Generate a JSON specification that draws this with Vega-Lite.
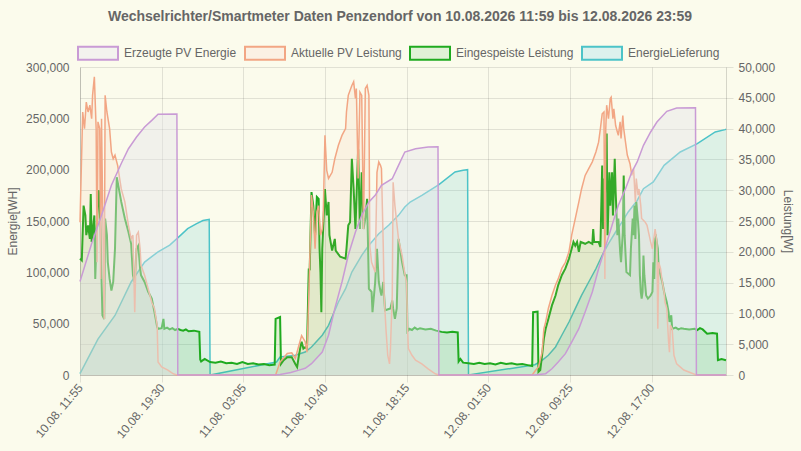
{
  "$schema": "https://vega.github.io/schema/vega-lite/v6.json",
  "width": 646,
  "height": 308,
  "autosize": {"type": "none"},
  "padding": {"left": 80, "top": 67, "right": 75, "bottom": 76},
  "background": "#fbfbec",
  "title": {
    "text": "Wechselrichter/Smartmeter Daten Penzendorf von 10.08.2026 11:59 bis 12.08.2026 23:59",
    "frame": "group",
    "anchor": "middle",
    "dx": -3,
    "offset": 8,
    "font": "Liberation Sans",
    "fontSize": 14,
    "fontWeight": "bold",
    "color": "#666666"
  },
  "config": {
    "view": {"stroke": null},
    "axis": {
      "labelFont": "Liberation Sans",
      "labelFontSize": 12,
      "labelColor": "#666666",
      "titleFont": "Liberation Sans",
      "titleFontSize": 12,
      "titleFontWeight": "normal",
      "titleColor": "#666666",
      "gridColor": "#000000",
      "gridOpacity": 0.1,
      "domainColor": "#000000",
      "domainOpacity": 0.15,
      "tickColor": "#000000",
      "tickOpacity": 0.1
    }
  },
  "datasets": {
    "pv_energie": [
      {"t": "2026-08-10T11:55", "v": 91000},
      {"t": "2026-08-10T13:00", "v": 128000},
      {"t": "2026-08-10T13:55", "v": 155500},
      {"t": "2026-08-10T14:50", "v": 184800},
      {"t": "2026-08-10T15:45", "v": 206000},
      {"t": "2026-08-10T16:25", "v": 220400},
      {"t": "2026-08-10T17:10", "v": 231800},
      {"t": "2026-08-10T17:55", "v": 241600},
      {"t": "2026-08-10T18:35", "v": 248000},
      {"t": "2026-08-10T19:10", "v": 254000},
      {"t": "2026-08-10T20:55", "v": 254300},
      {"t": "2026-08-10T21:00", "v": 0},
      {"t": "2026-08-11T06:00", "v": 0},
      {"t": "2026-08-11T06:30", "v": 500},
      {"t": "2026-08-11T07:00", "v": 1500},
      {"t": "2026-08-11T07:30", "v": 2500},
      {"t": "2026-08-11T08:20", "v": 5000},
      {"t": "2026-08-11T08:50", "v": 6500},
      {"t": "2026-08-11T09:25", "v": 11000},
      {"t": "2026-08-11T10:25", "v": 22400},
      {"t": "2026-08-11T11:00", "v": 38700},
      {"t": "2026-08-11T11:35", "v": 64600},
      {"t": "2026-08-11T12:15", "v": 90600},
      {"t": "2026-08-11T12:50", "v": 116600},
      {"t": "2026-08-11T13:30", "v": 139300},
      {"t": "2026-08-11T14:05", "v": 155500},
      {"t": "2026-08-11T14:45", "v": 168500},
      {"t": "2026-08-11T15:20", "v": 175000},
      {"t": "2026-08-11T15:55", "v": 184800},
      {"t": "2026-08-11T16:55", "v": 191200},
      {"t": "2026-08-11T17:30", "v": 204200},
      {"t": "2026-08-11T18:05", "v": 217200},
      {"t": "2026-08-11T19:05", "v": 220400},
      {"t": "2026-08-11T20:15", "v": 222000},
      {"t": "2026-08-11T21:10", "v": 222200},
      {"t": "2026-08-11T21:15", "v": 0},
      {"t": "2026-08-12T06:10", "v": 0},
      {"t": "2026-08-12T07:10", "v": 1300},
      {"t": "2026-08-12T07:45", "v": 6100},
      {"t": "2026-08-12T08:20", "v": 12700},
      {"t": "2026-08-12T09:00", "v": 20800},
      {"t": "2026-08-12T09:35", "v": 32100},
      {"t": "2026-08-12T10:15", "v": 45100},
      {"t": "2026-08-12T10:50", "v": 61400},
      {"t": "2026-08-12T11:30", "v": 80800},
      {"t": "2026-08-12T12:05", "v": 103500},
      {"t": "2026-08-12T12:40", "v": 123000},
      {"t": "2026-08-12T13:20", "v": 145800},
      {"t": "2026-08-12T13:55", "v": 165300},
      {"t": "2026-08-12T14:35", "v": 181500},
      {"t": "2026-08-12T15:10", "v": 197700},
      {"t": "2026-08-12T15:40", "v": 207500},
      {"t": "2026-08-12T16:15", "v": 223700},
      {"t": "2026-08-12T16:55", "v": 236700},
      {"t": "2026-08-12T17:30", "v": 246400},
      {"t": "2026-08-12T18:25", "v": 256800},
      {"t": "2026-08-12T19:20", "v": 260000},
      {"t": "2026-08-12T21:05", "v": 260200},
      {"t": "2026-08-12T21:10", "v": 0},
      {"t": "2026-08-12T23:55", "v": 0}
    ],
    "lieferung": [
      {"t": "2026-08-10T11:55", "v": 1300},
      {"t": "2026-08-10T13:35", "v": 35000},
      {"t": "2026-08-10T15:10", "v": 58000},
      {"t": "2026-08-10T16:40", "v": 90600},
      {"t": "2026-08-10T17:55", "v": 110000},
      {"t": "2026-08-10T19:10", "v": 120000},
      {"t": "2026-08-10T20:15", "v": 126600},
      {"t": "2026-08-10T21:15", "v": 136000},
      {"t": "2026-08-10T21:55", "v": 142500},
      {"t": "2026-08-10T22:45", "v": 147400},
      {"t": "2026-08-10T23:20", "v": 150500},
      {"t": "2026-08-10T23:55", "v": 151500},
      {"t": "2026-08-11T00:00", "v": 0},
      {"t": "2026-08-11T06:10", "v": 12700},
      {"t": "2026-08-11T06:30", "v": 17500},
      {"t": "2026-08-11T07:55", "v": 19200},
      {"t": "2026-08-11T08:50", "v": 22400},
      {"t": "2026-08-11T09:25", "v": 27300},
      {"t": "2026-08-11T10:25", "v": 38700},
      {"t": "2026-08-11T11:00", "v": 48400},
      {"t": "2026-08-11T11:55", "v": 71100},
      {"t": "2026-08-11T12:35", "v": 84100},
      {"t": "2026-08-11T13:10", "v": 100300},
      {"t": "2026-08-11T14:05", "v": 116600},
      {"t": "2026-08-11T14:45", "v": 126300},
      {"t": "2026-08-11T15:40", "v": 137600},
      {"t": "2026-08-11T16:35", "v": 145800},
      {"t": "2026-08-11T17:30", "v": 155500},
      {"t": "2026-08-11T18:05", "v": 163600},
      {"t": "2026-08-11T18:35", "v": 168500},
      {"t": "2026-08-11T19:40", "v": 175000},
      {"t": "2026-08-11T21:15", "v": 185400},
      {"t": "2026-08-11T22:45", "v": 197700},
      {"t": "2026-08-11T23:30", "v": 199500},
      {"t": "2026-08-11T23:55", "v": 200000},
      {"t": "2026-08-12T00:00", "v": 0},
      {"t": "2026-08-12T06:10", "v": 10000},
      {"t": "2026-08-12T06:50", "v": 14300},
      {"t": "2026-08-12T07:25", "v": 19200},
      {"t": "2026-08-12T08:05", "v": 27300},
      {"t": "2026-08-12T08:40", "v": 38700},
      {"t": "2026-08-12T09:20", "v": 51600},
      {"t": "2026-08-12T09:55", "v": 64600},
      {"t": "2026-08-12T10:30", "v": 77600},
      {"t": "2026-08-12T11:10", "v": 90600},
      {"t": "2026-08-12T11:50", "v": 103500},
      {"t": "2026-08-12T12:25", "v": 116600},
      {"t": "2026-08-12T13:00", "v": 127900},
      {"t": "2026-08-12T13:40", "v": 139300},
      {"t": "2026-08-12T14:15", "v": 149000},
      {"t": "2026-08-12T14:50", "v": 158800},
      {"t": "2026-08-12T15:40", "v": 170000},
      {"t": "2026-08-12T16:15", "v": 181500},
      {"t": "2026-08-12T17:10", "v": 188000},
      {"t": "2026-08-12T18:10", "v": 204200},
      {"t": "2026-08-12T19:40", "v": 217200},
      {"t": "2026-08-12T21:15", "v": 225300},
      {"t": "2026-08-12T22:55", "v": 236700},
      {"t": "2026-08-12T23:50", "v": 239000},
      {"t": "2026-08-12T23:55", "v": 239300}
    ],
    "pv_leistung": [
      {"t": "2026-08-10T11:55", "v": 24800},
      {"t": "2026-08-10T12:10", "v": 42700},
      {"t": "2026-08-10T12:20", "v": 40000},
      {"t": "2026-08-10T12:30", "v": 44300},
      {"t": "2026-08-10T12:40", "v": 42700},
      {"t": "2026-08-10T12:50", "v": 43800},
      {"t": "2026-08-10T13:00", "v": 41600},
      {"t": "2026-08-10T13:05", "v": 45400},
      {"t": "2026-08-10T13:15", "v": 48400},
      {"t": "2026-08-10T13:25", "v": 40000},
      {"t": "2026-08-10T13:30", "v": 18300},
      {"t": "2026-08-10T13:35", "v": 41100},
      {"t": "2026-08-10T13:45", "v": 40000},
      {"t": "2026-08-10T13:50", "v": 15600},
      {"t": "2026-08-10T13:55", "v": 41600},
      {"t": "2026-08-10T14:05", "v": 18300},
      {"t": "2026-08-10T14:10", "v": 9100},
      {"t": "2026-08-10T14:15", "v": 45400},
      {"t": "2026-08-10T14:25", "v": 42700},
      {"t": "2026-08-10T14:40", "v": 40000},
      {"t": "2026-08-10T14:50", "v": 36200},
      {"t": "2026-08-10T15:00", "v": 35100},
      {"t": "2026-08-10T15:10", "v": 35700},
      {"t": "2026-08-10T15:25", "v": 34000},
      {"t": "2026-08-10T15:45", "v": 30200},
      {"t": "2026-08-10T16:05", "v": 28100},
      {"t": "2026-08-10T16:25", "v": 24300},
      {"t": "2026-08-10T16:40", "v": 22100},
      {"t": "2026-08-10T16:50", "v": 22700},
      {"t": "2026-08-10T17:00", "v": 10200},
      {"t": "2026-08-10T17:10", "v": 22700},
      {"t": "2026-08-10T17:20", "v": 23200},
      {"t": "2026-08-10T17:30", "v": 20500},
      {"t": "2026-08-10T17:35", "v": 17800},
      {"t": "2026-08-10T17:55", "v": 16200},
      {"t": "2026-08-10T18:15", "v": 14000},
      {"t": "2026-08-10T18:35", "v": 11800},
      {"t": "2026-08-10T18:50", "v": 10800},
      {"t": "2026-08-10T19:05", "v": 8100},
      {"t": "2026-08-10T19:10", "v": 2100},
      {"t": "2026-08-10T19:30", "v": 1300},
      {"t": "2026-08-10T20:05", "v": 800},
      {"t": "2026-08-10T20:35", "v": 200},
      {"t": "2026-08-10T20:55", "v": 0},
      {"t": "2026-08-11T06:05", "v": 0},
      {"t": "2026-08-11T06:30", "v": 2100},
      {"t": "2026-08-11T07:10", "v": 3500},
      {"t": "2026-08-11T07:35", "v": 3600},
      {"t": "2026-08-11T07:55", "v": 2700},
      {"t": "2026-08-11T08:10", "v": 4300},
      {"t": "2026-08-11T08:30", "v": 6400},
      {"t": "2026-08-11T08:50", "v": 5400},
      {"t": "2026-08-11T09:00", "v": 3700},
      {"t": "2026-08-11T09:10", "v": 12900},
      {"t": "2026-08-11T09:15", "v": 18300},
      {"t": "2026-08-11T09:25", "v": 29200},
      {"t": "2026-08-11T09:35", "v": 26500},
      {"t": "2026-08-11T09:45", "v": 20500},
      {"t": "2026-08-11T09:55", "v": 26500},
      {"t": "2026-08-11T10:05", "v": 27500},
      {"t": "2026-08-11T10:15", "v": 22700},
      {"t": "2026-08-11T10:25", "v": 23700},
      {"t": "2026-08-11T10:30", "v": 25400},
      {"t": "2026-08-11T10:40", "v": 38900},
      {"t": "2026-08-11T10:50", "v": 33200},
      {"t": "2026-08-11T11:00", "v": 31900},
      {"t": "2026-08-11T11:20", "v": 32900},
      {"t": "2026-08-11T11:35", "v": 35100},
      {"t": "2026-08-11T11:55", "v": 37300},
      {"t": "2026-08-11T12:15", "v": 38900},
      {"t": "2026-08-11T12:35", "v": 40000},
      {"t": "2026-08-11T12:40", "v": 42700},
      {"t": "2026-08-11T12:50", "v": 45400},
      {"t": "2026-08-11T13:10", "v": 47000},
      {"t": "2026-08-11T13:20", "v": 47600},
      {"t": "2026-08-11T13:30", "v": 44900},
      {"t": "2026-08-11T13:35", "v": 46500},
      {"t": "2026-08-11T13:45", "v": 31900},
      {"t": "2026-08-11T13:55", "v": 45900},
      {"t": "2026-08-11T14:05", "v": 45400},
      {"t": "2026-08-11T14:15", "v": 23700},
      {"t": "2026-08-11T14:25", "v": 46500},
      {"t": "2026-08-11T14:35", "v": 47000},
      {"t": "2026-08-11T14:45", "v": 45400},
      {"t": "2026-08-11T14:50", "v": 21000},
      {"t": "2026-08-11T15:00", "v": 18300},
      {"t": "2026-08-11T15:20", "v": 16700},
      {"t": "2026-08-11T15:30", "v": 32900},
      {"t": "2026-08-11T15:40", "v": 34600},
      {"t": "2026-08-11T15:50", "v": 34000},
      {"t": "2026-08-11T15:55", "v": 33500},
      {"t": "2026-08-11T16:05", "v": 21000},
      {"t": "2026-08-11T16:10", "v": 12900},
      {"t": "2026-08-11T16:20", "v": 7500},
      {"t": "2026-08-11T16:30", "v": 3200},
      {"t": "2026-08-11T16:40", "v": 1800},
      {"t": "2026-08-11T16:45", "v": 4300},
      {"t": "2026-08-11T16:55", "v": 12900},
      {"t": "2026-08-11T17:00", "v": 31300},
      {"t": "2026-08-11T17:10", "v": 27500},
      {"t": "2026-08-11T17:30", "v": 22100},
      {"t": "2026-08-11T17:50", "v": 19400},
      {"t": "2026-08-11T18:05", "v": 16500},
      {"t": "2026-08-11T18:15", "v": 15000},
      {"t": "2026-08-11T18:20", "v": 8000},
      {"t": "2026-08-11T18:25", "v": 4300},
      {"t": "2026-08-11T18:45", "v": 3200},
      {"t": "2026-08-11T19:05", "v": 2400},
      {"t": "2026-08-11T19:40", "v": 1800},
      {"t": "2026-08-11T20:15", "v": 1000},
      {"t": "2026-08-11T20:55", "v": 200},
      {"t": "2026-08-11T21:15", "v": 0},
      {"t": "2026-08-12T05:55", "v": 0},
      {"t": "2026-08-12T06:15", "v": 800},
      {"t": "2026-08-12T06:30", "v": 1300},
      {"t": "2026-08-12T06:50", "v": 3700},
      {"t": "2026-08-12T07:00", "v": 7500},
      {"t": "2026-08-12T07:10", "v": 8600},
      {"t": "2026-08-12T07:25", "v": 10800},
      {"t": "2026-08-12T07:45", "v": 12900},
      {"t": "2026-08-12T08:05", "v": 14600},
      {"t": "2026-08-12T08:20", "v": 15600},
      {"t": "2026-08-12T08:40", "v": 17300},
      {"t": "2026-08-12T09:00", "v": 18300},
      {"t": "2026-08-12T09:20", "v": 20000},
      {"t": "2026-08-12T09:35", "v": 22700},
      {"t": "2026-08-12T09:55", "v": 25400},
      {"t": "2026-08-12T10:15", "v": 28100},
      {"t": "2026-08-12T10:30", "v": 30200},
      {"t": "2026-08-12T10:50", "v": 32400},
      {"t": "2026-08-12T11:10", "v": 33500},
      {"t": "2026-08-12T11:30", "v": 34600},
      {"t": "2026-08-12T11:50", "v": 36200},
      {"t": "2026-08-12T12:05", "v": 37800},
      {"t": "2026-08-12T12:15", "v": 40000},
      {"t": "2026-08-12T12:25", "v": 42400},
      {"t": "2026-08-12T12:35", "v": 42700},
      {"t": "2026-08-12T12:40", "v": 15600},
      {"t": "2026-08-12T12:45", "v": 40000},
      {"t": "2026-08-12T12:50", "v": 43800},
      {"t": "2026-08-12T13:00", "v": 41600},
      {"t": "2026-08-12T13:10", "v": 44900},
      {"t": "2026-08-12T13:15", "v": 45100},
      {"t": "2026-08-12T13:25", "v": 41600},
      {"t": "2026-08-12T13:30", "v": 43200},
      {"t": "2026-08-12T13:40", "v": 40500},
      {"t": "2026-08-12T13:50", "v": 39400},
      {"t": "2026-08-12T13:55", "v": 38900},
      {"t": "2026-08-12T14:05", "v": 41100},
      {"t": "2026-08-12T14:10", "v": 38400},
      {"t": "2026-08-12T14:20", "v": 42100},
      {"t": "2026-08-12T14:25", "v": 40000},
      {"t": "2026-08-12T14:35", "v": 37800},
      {"t": "2026-08-12T14:45", "v": 35700},
      {"t": "2026-08-12T15:00", "v": 34300},
      {"t": "2026-08-12T15:10", "v": 32400},
      {"t": "2026-08-12T15:20", "v": 33500},
      {"t": "2026-08-12T15:30", "v": 28100},
      {"t": "2026-08-12T15:35", "v": 31900},
      {"t": "2026-08-12T15:45", "v": 29200},
      {"t": "2026-08-12T15:50", "v": 30200},
      {"t": "2026-08-12T16:00", "v": 27500},
      {"t": "2026-08-12T16:05", "v": 25400},
      {"t": "2026-08-12T16:25", "v": 24800},
      {"t": "2026-08-12T16:35", "v": 24300},
      {"t": "2026-08-12T16:55", "v": 21600},
      {"t": "2026-08-12T17:05", "v": 20500},
      {"t": "2026-08-12T17:20", "v": 23700},
      {"t": "2026-08-12T17:30", "v": 21600},
      {"t": "2026-08-12T17:35", "v": 7500},
      {"t": "2026-08-12T17:40", "v": 18300},
      {"t": "2026-08-12T17:50", "v": 17300},
      {"t": "2026-08-12T18:00", "v": 15100},
      {"t": "2026-08-12T18:10", "v": 13500},
      {"t": "2026-08-12T18:15", "v": 11800},
      {"t": "2026-08-12T18:25", "v": 10800},
      {"t": "2026-08-12T18:35", "v": 5400},
      {"t": "2026-08-12T18:40", "v": 3700},
      {"t": "2026-08-12T18:45", "v": 8100},
      {"t": "2026-08-12T18:55", "v": 7500},
      {"t": "2026-08-12T19:05", "v": 3200},
      {"t": "2026-08-12T19:20", "v": 1800},
      {"t": "2026-08-12T20:00", "v": 800},
      {"t": "2026-08-12T20:35", "v": 400},
      {"t": "2026-08-12T21:10", "v": 0},
      {"t": "2026-08-12T23:55", "v": 0}
    ],
    "einspeisung": [
      {"t": "2026-08-10T11:55", "v": 18900},
      {"t": "2026-08-10T12:05", "v": 18600},
      {"t": "2026-08-10T12:15", "v": 27500},
      {"t": "2026-08-10T12:25", "v": 25900},
      {"t": "2026-08-10T12:30", "v": 22700},
      {"t": "2026-08-10T12:40", "v": 24300},
      {"t": "2026-08-10T12:50", "v": 22100},
      {"t": "2026-08-10T12:55", "v": 29400},
      {"t": "2026-08-10T13:00", "v": 21600},
      {"t": "2026-08-10T13:15", "v": 25900},
      {"t": "2026-08-10T13:20", "v": 15600},
      {"t": "2026-08-10T13:30", "v": 24800},
      {"t": "2026-08-10T13:35", "v": 29200},
      {"t": "2026-08-10T13:40", "v": 30000},
      {"t": "2026-08-10T13:50", "v": 23700},
      {"t": "2026-08-10T13:55", "v": 15600},
      {"t": "2026-08-10T14:00", "v": 9700},
      {"t": "2026-08-10T14:10", "v": 9100},
      {"t": "2026-08-10T14:15", "v": 25400},
      {"t": "2026-08-10T14:25", "v": 22700},
      {"t": "2026-08-10T14:30", "v": 18300},
      {"t": "2026-08-10T14:40", "v": 15600},
      {"t": "2026-08-10T14:50", "v": 13700},
      {"t": "2026-08-10T15:00", "v": 15100},
      {"t": "2026-08-10T15:10", "v": 20500},
      {"t": "2026-08-10T15:20", "v": 32100},
      {"t": "2026-08-10T15:25", "v": 31300},
      {"t": "2026-08-10T15:45", "v": 28100},
      {"t": "2026-08-10T16:05", "v": 25400},
      {"t": "2026-08-10T16:25", "v": 23200},
      {"t": "2026-08-10T16:40", "v": 21300},
      {"t": "2026-08-10T16:50", "v": 16200},
      {"t": "2026-08-10T17:00", "v": 15100},
      {"t": "2026-08-10T17:10", "v": 20500},
      {"t": "2026-08-10T17:20", "v": 21000},
      {"t": "2026-08-10T17:30", "v": 17300},
      {"t": "2026-08-10T17:35", "v": 16200},
      {"t": "2026-08-10T17:55", "v": 15100},
      {"t": "2026-08-10T18:15", "v": 13500},
      {"t": "2026-08-10T18:35", "v": 12400},
      {"t": "2026-08-10T18:50", "v": 10200},
      {"t": "2026-08-10T19:05", "v": 7800},
      {"t": "2026-08-10T19:10", "v": 7500},
      {"t": "2026-08-10T19:30", "v": 7600},
      {"t": "2026-08-10T19:40", "v": 9100},
      {"t": "2026-08-10T19:45", "v": 7500},
      {"t": "2026-08-10T20:00", "v": 7700},
      {"t": "2026-08-10T20:15", "v": 7400},
      {"t": "2026-08-10T20:30", "v": 7600},
      {"t": "2026-08-10T20:45", "v": 7300},
      {"t": "2026-08-10T21:00", "v": 7500},
      {"t": "2026-08-10T21:15", "v": 7300},
      {"t": "2026-08-10T21:30", "v": 7200},
      {"t": "2026-08-10T21:45", "v": 7400},
      {"t": "2026-08-10T22:00", "v": 7100},
      {"t": "2026-08-10T22:30", "v": 7200},
      {"t": "2026-08-10T23:00", "v": 7000},
      {"t": "2026-08-10T23:05", "v": 2500},
      {"t": "2026-08-10T23:10", "v": 2200},
      {"t": "2026-08-10T23:30", "v": 2600},
      {"t": "2026-08-11T00:00", "v": 2100},
      {"t": "2026-08-11T00:30", "v": 2000},
      {"t": "2026-08-11T01:00", "v": 2200},
      {"t": "2026-08-11T01:30", "v": 1900},
      {"t": "2026-08-11T02:00", "v": 2000},
      {"t": "2026-08-11T02:30", "v": 1800},
      {"t": "2026-08-11T03:00", "v": 2100},
      {"t": "2026-08-11T03:30", "v": 1800},
      {"t": "2026-08-11T04:00", "v": 1900},
      {"t": "2026-08-11T04:30", "v": 1700},
      {"t": "2026-08-11T05:00", "v": 1800},
      {"t": "2026-08-11T05:30", "v": 1600},
      {"t": "2026-08-11T06:00", "v": 1700},
      {"t": "2026-08-11T06:05", "v": 9100},
      {"t": "2026-08-11T06:30", "v": 9400},
      {"t": "2026-08-11T06:35", "v": 1800},
      {"t": "2026-08-11T06:50", "v": 2400},
      {"t": "2026-08-11T07:10", "v": 2900},
      {"t": "2026-08-11T07:35", "v": 2900},
      {"t": "2026-08-11T07:55", "v": 1800},
      {"t": "2026-08-11T08:05", "v": 1300},
      {"t": "2026-08-11T08:15", "v": 3200},
      {"t": "2026-08-11T08:25", "v": 4800},
      {"t": "2026-08-11T08:30", "v": 5400},
      {"t": "2026-08-11T08:40", "v": 4300},
      {"t": "2026-08-11T08:50", "v": 4500},
      {"t": "2026-08-11T09:00", "v": 4300},
      {"t": "2026-08-11T09:10", "v": 17300},
      {"t": "2026-08-11T09:15", "v": 17000},
      {"t": "2026-08-11T09:25", "v": 29700},
      {"t": "2026-08-11T09:35", "v": 27500},
      {"t": "2026-08-11T09:45", "v": 22700},
      {"t": "2026-08-11T09:55", "v": 28900},
      {"t": "2026-08-11T10:05", "v": 28600},
      {"t": "2026-08-11T10:10", "v": 20500},
      {"t": "2026-08-11T10:15", "v": 16700},
      {"t": "2026-08-11T10:20", "v": 10200},
      {"t": "2026-08-11T10:25", "v": 20500},
      {"t": "2026-08-11T10:30", "v": 23700},
      {"t": "2026-08-11T10:40", "v": 30200},
      {"t": "2026-08-11T10:50", "v": 25900},
      {"t": "2026-08-11T11:00", "v": 28100},
      {"t": "2026-08-11T11:05", "v": 22700},
      {"t": "2026-08-11T11:20", "v": 20200},
      {"t": "2026-08-11T11:35", "v": 22100},
      {"t": "2026-08-11T11:40", "v": 20200},
      {"t": "2026-08-11T12:05", "v": 19200},
      {"t": "2026-08-11T12:35", "v": 18900},
      {"t": "2026-08-11T12:40", "v": 20500},
      {"t": "2026-08-11T12:50", "v": 24300},
      {"t": "2026-08-11T13:00", "v": 24800},
      {"t": "2026-08-11T13:10", "v": 35100},
      {"t": "2026-08-11T13:20", "v": 30200},
      {"t": "2026-08-11T13:30", "v": 23700},
      {"t": "2026-08-11T13:35", "v": 28100},
      {"t": "2026-08-11T13:45", "v": 36700},
      {"t": "2026-08-11T13:55", "v": 23700},
      {"t": "2026-08-11T14:05", "v": 32900},
      {"t": "2026-08-11T14:15", "v": 23700},
      {"t": "2026-08-11T14:25", "v": 25400},
      {"t": "2026-08-11T14:35", "v": 28600},
      {"t": "2026-08-11T14:45", "v": 14000},
      {"t": "2026-08-11T15:00", "v": 13500},
      {"t": "2026-08-11T15:05", "v": 10200},
      {"t": "2026-08-11T15:20", "v": 15100},
      {"t": "2026-08-11T15:30", "v": 20500},
      {"t": "2026-08-11T15:40", "v": 15100},
      {"t": "2026-08-11T15:50", "v": 13500},
      {"t": "2026-08-11T15:55", "v": 12900},
      {"t": "2026-08-11T16:05", "v": 15100},
      {"t": "2026-08-11T16:15", "v": 10500},
      {"t": "2026-08-11T16:45", "v": 10800},
      {"t": "2026-08-11T16:55", "v": 12100},
      {"t": "2026-08-11T17:00", "v": 10800},
      {"t": "2026-08-11T17:10", "v": 9100},
      {"t": "2026-08-11T17:20", "v": 10800},
      {"t": "2026-08-11T17:30", "v": 22100},
      {"t": "2026-08-11T17:50", "v": 18300},
      {"t": "2026-08-11T18:05", "v": 16200},
      {"t": "2026-08-11T18:15", "v": 16200},
      {"t": "2026-08-11T18:20", "v": 7100},
      {"t": "2026-08-11T18:30", "v": 7500},
      {"t": "2026-08-11T18:45", "v": 7300},
      {"t": "2026-08-11T19:00", "v": 7700},
      {"t": "2026-08-11T19:15", "v": 7400},
      {"t": "2026-08-11T19:30", "v": 7600},
      {"t": "2026-08-11T20:00", "v": 7400},
      {"t": "2026-08-11T20:30", "v": 7500},
      {"t": "2026-08-11T21:00", "v": 7200},
      {"t": "2026-08-11T21:30", "v": 7000},
      {"t": "2026-08-11T22:00", "v": 6900},
      {"t": "2026-08-11T22:30", "v": 7000},
      {"t": "2026-08-11T23:00", "v": 6900},
      {"t": "2026-08-11T23:05", "v": 2200},
      {"t": "2026-08-11T23:15", "v": 2600},
      {"t": "2026-08-11T23:30", "v": 2000},
      {"t": "2026-08-12T00:00", "v": 1900},
      {"t": "2026-08-12T00:30", "v": 1800},
      {"t": "2026-08-12T01:00", "v": 2000},
      {"t": "2026-08-12T01:30", "v": 1800},
      {"t": "2026-08-12T02:00", "v": 1900},
      {"t": "2026-08-12T02:30", "v": 1700},
      {"t": "2026-08-12T03:00", "v": 2000},
      {"t": "2026-08-12T03:30", "v": 1800},
      {"t": "2026-08-12T04:00", "v": 1900},
      {"t": "2026-08-12T04:30", "v": 1700},
      {"t": "2026-08-12T05:00", "v": 1800},
      {"t": "2026-08-12T05:30", "v": 1600},
      {"t": "2026-08-12T05:55", "v": 1450},
      {"t": "2026-08-12T06:00", "v": 10200},
      {"t": "2026-08-12T06:25", "v": 10300},
      {"t": "2026-08-12T06:30", "v": 500},
      {"t": "2026-08-12T06:40", "v": 800},
      {"t": "2026-08-12T06:50", "v": 3200},
      {"t": "2026-08-12T07:00", "v": 5900},
      {"t": "2026-08-12T07:10", "v": 7500},
      {"t": "2026-08-12T07:25", "v": 9100},
      {"t": "2026-08-12T07:45", "v": 11300},
      {"t": "2026-08-12T08:05", "v": 12900},
      {"t": "2026-08-12T08:20", "v": 14600},
      {"t": "2026-08-12T08:40", "v": 16200},
      {"t": "2026-08-12T09:00", "v": 17300},
      {"t": "2026-08-12T09:20", "v": 18900},
      {"t": "2026-08-12T09:35", "v": 20500},
      {"t": "2026-08-12T09:45", "v": 21600},
      {"t": "2026-08-12T09:55", "v": 21000},
      {"t": "2026-08-12T10:05", "v": 21600},
      {"t": "2026-08-12T10:15", "v": 20000},
      {"t": "2026-08-12T10:25", "v": 21600},
      {"t": "2026-08-12T10:50", "v": 21300},
      {"t": "2026-08-12T11:10", "v": 21600},
      {"t": "2026-08-12T11:30", "v": 21300},
      {"t": "2026-08-12T11:35", "v": 23700},
      {"t": "2026-08-12T11:40", "v": 21600},
      {"t": "2026-08-12T12:05", "v": 21600},
      {"t": "2026-08-12T12:15", "v": 20800},
      {"t": "2026-08-12T12:25", "v": 34000},
      {"t": "2026-08-12T12:30", "v": 23700},
      {"t": "2026-08-12T12:35", "v": 31900},
      {"t": "2026-08-12T12:40", "v": 28600},
      {"t": "2026-08-12T12:50", "v": 39200},
      {"t": "2026-08-12T12:55", "v": 22700},
      {"t": "2026-08-12T13:05", "v": 32900},
      {"t": "2026-08-12T13:10", "v": 27500},
      {"t": "2026-08-12T13:20", "v": 32900},
      {"t": "2026-08-12T13:25", "v": 25900},
      {"t": "2026-08-12T13:35", "v": 35100},
      {"t": "2026-08-12T13:40", "v": 29700},
      {"t": "2026-08-12T13:50", "v": 22700},
      {"t": "2026-08-12T13:55", "v": 25400},
      {"t": "2026-08-12T14:05", "v": 20000},
      {"t": "2026-08-12T14:10", "v": 18300},
      {"t": "2026-08-12T14:20", "v": 23200},
      {"t": "2026-08-12T14:25", "v": 32400},
      {"t": "2026-08-12T14:30", "v": 22700},
      {"t": "2026-08-12T14:40", "v": 16700},
      {"t": "2026-08-12T15:00", "v": 16200},
      {"t": "2026-08-12T15:05", "v": 20500},
      {"t": "2026-08-12T15:15", "v": 25400},
      {"t": "2026-08-12T15:20", "v": 22700},
      {"t": "2026-08-12T15:25", "v": 27500},
      {"t": "2026-08-12T15:30", "v": 22100},
      {"t": "2026-08-12T15:35", "v": 28100},
      {"t": "2026-08-12T15:45", "v": 24800},
      {"t": "2026-08-12T15:50", "v": 22700},
      {"t": "2026-08-12T15:55", "v": 16200},
      {"t": "2026-08-12T16:00", "v": 13500},
      {"t": "2026-08-12T16:05", "v": 12400},
      {"t": "2026-08-12T16:10", "v": 13500},
      {"t": "2026-08-12T16:15", "v": 19400},
      {"t": "2026-08-12T16:20", "v": 16200},
      {"t": "2026-08-12T16:30", "v": 12900},
      {"t": "2026-08-12T16:40", "v": 12400},
      {"t": "2026-08-12T16:55", "v": 12900},
      {"t": "2026-08-12T17:05", "v": 13500},
      {"t": "2026-08-12T17:10", "v": 18300},
      {"t": "2026-08-12T17:15", "v": 15600},
      {"t": "2026-08-12T17:20", "v": 22100},
      {"t": "2026-08-12T17:25", "v": 22400},
      {"t": "2026-08-12T17:35", "v": 20500},
      {"t": "2026-08-12T17:40", "v": 17300},
      {"t": "2026-08-12T17:50", "v": 16200},
      {"t": "2026-08-12T18:00", "v": 15100},
      {"t": "2026-08-12T18:10", "v": 13500},
      {"t": "2026-08-12T18:15", "v": 12900},
      {"t": "2026-08-12T18:25", "v": 11800},
      {"t": "2026-08-12T18:35", "v": 10200},
      {"t": "2026-08-12T18:40", "v": 8600},
      {"t": "2026-08-12T18:50", "v": 9700},
      {"t": "2026-08-12T18:55", "v": 7500},
      {"t": "2026-08-12T19:15", "v": 7700},
      {"t": "2026-08-12T19:30", "v": 7400},
      {"t": "2026-08-12T19:45", "v": 7600},
      {"t": "2026-08-12T20:00", "v": 7500},
      {"t": "2026-08-12T20:30", "v": 7400},
      {"t": "2026-08-12T21:00", "v": 7500},
      {"t": "2026-08-12T21:15", "v": 7300},
      {"t": "2026-08-12T21:30", "v": 7600},
      {"t": "2026-08-12T21:45", "v": 7400},
      {"t": "2026-08-12T22:10", "v": 6700},
      {"t": "2026-08-12T22:40", "v": 6800},
      {"t": "2026-08-12T23:05", "v": 6700},
      {"t": "2026-08-12T23:10", "v": 2400},
      {"t": "2026-08-12T23:30", "v": 2600},
      {"t": "2026-08-12T23:55", "v": 2400}
    ]
  },
  "encoding": {
    "x": {
      "field": "t",
      "type": "temporal",
      "scale": {
        "domain": [
          {"year": 2026, "month": 8, "date": 10, "hours": 11, "minutes": 55},
          {"year": 2026, "month": 8, "date": 12, "hours": 23, "minutes": 55}
        ],
        "nice": false
      },
      "axis": {
        "title": null,
        "values": [
          {"year": 2026, "month": 8, "date": 10, "hours": 11, "minutes": 55},
          {"year": 2026, "month": 8, "date": 10, "hours": 19, "minutes": 30},
          {"year": 2026, "month": 8, "date": 11, "hours": 3, "minutes": 5},
          {"year": 2026, "month": 8, "date": 11, "hours": 10, "minutes": 40},
          {"year": 2026, "month": 8, "date": 11, "hours": 18, "minutes": 15},
          {"year": 2026, "month": 8, "date": 12, "hours": 1, "minutes": 50},
          {"year": 2026, "month": 8, "date": 12, "hours": 9, "minutes": 25},
          {"year": 2026, "month": 8, "date": 12, "hours": 17, "minutes": 0}
        ],
        "format": "%d.%m. %H:%M",
        "labelAngle": -50,
        "labelAlign": "right",
        "labelBaseline": "middle",
        "tickSize": 7,
        "labelPadding": 3,
        "grid": true
      }
    }
  },
  "layer": [
    {
      "data": {"name": "lieferung"},
      "encoding": {
        "y": {
          "field": "v",
          "type": "quantitative",
          "scale": {"domain": [0, 300000]},
          "axis": {
            "orient": "left",
            "title": "Energie[WH]",
            "values": [0, 50000, 100000, 150000, 200000, 250000, 300000],
            "format": ",.0f",
            "grid": false,
            "ticks": false,
            "labelPadding": 11,
            "titlePadding": 6
          }
        }
      },
      "layer": [
        {"mark": {"type": "area", "color": "#4cc3c8", "fillOpacity": 0.17}},
        {
          "mark": {"type": "line", "strokeWidth": 1.5},
          "encoding": {
            "color": {
              "datum": "EnergieLieferung",
              "type": "nominal",
              "scale": {
                "domain": ["Erzeugte PV Energie", "Aktuelle PV Leistung", "Eingespeiste Leistung", "EnergieLieferung"],
                "range": ["#c99bd5", "#f2a684", "#1faa1f", "#4cc3c8"]
              },
              "legend": {
                "orient": "none",
                "legendX": -3,
                "legendY": -35,
                "direction": "horizontal",
                "columns": 4,
                "title": null,
                "padding": 0,
                "columnPadding": 4,
                "symbolType": "M-1,-0.325L1,-0.325L1,0.325L-1,0.325Z",
                "symbolSize": 1600,
                "symbolStrokeWidth": 2,
                "labelFont": "Liberation Sans",
                "labelFontSize": 12,
                "labelColor": "#666666",
                "labelOffset": 5,
                "labelLimit": 300,
                "encode": {
                  "symbols": {
                    "update": {
                      "fill": {"signal": "datum.value === 'Erzeugte PV Energie' ? '#f3f3ee' : datum.value === 'Aktuelle PV Leistung' ? '#fbf1e4' : datum.value === 'Eingespeiste Leistung' ? '#e0f1d6' : '#ddf1ed'"},
                      "fillOpacity": {"value": 1},
                      "opacity": {"value": 1}
                    }
                  }
                }
              }
            }
          }
        }
      ]
    },
    {
      "data": {"name": "einspeisung"},
      "encoding": {
        "y": {
          "field": "v",
          "type": "quantitative",
          "scale": {"domain": [0, 50000]},
          "axis": {
            "orient": "right",
            "title": "Leistung[W]",
            "values": [0, 5000, 10000, 15000, 20000, 25000, 30000, 35000, 40000, 45000, 50000],
            "format": ",.0f",
            "grid": true,
            "tickSize": 7,
            "labelPadding": 5,
            "titlePadding": 6
          }
        }
      },
      "layer": [
        {"mark": {"type": "area", "color": "#1faa1f", "fillOpacity": 0.12}},
        {
          "mark": {"type": "line", "strokeWidth": 2},
          "encoding": {"color": {"datum": "Eingespeiste Leistung", "type": "nominal"}}
        }
      ]
    },
    {
      "data": {"name": "pv_leistung"},
      "encoding": {
        "y": {"field": "v", "type": "quantitative", "scale": {"domain": [0, 50000]}, "axis": null}
      },
      "layer": [
        {"mark": {"type": "area", "color": "#f2a684", "fillOpacity": 0.1}},
        {
          "mark": {"type": "line", "strokeWidth": 1.5},
          "encoding": {"color": {"datum": "Aktuelle PV Leistung", "type": "nominal"}}
        }
      ]
    },
    {
      "data": {"name": "pv_energie"},
      "encoding": {
        "y": {"field": "v", "type": "quantitative", "scale": {"domain": [0, 300000]}, "axis": null}
      },
      "layer": [
        {"mark": {"type": "area", "color": "#e4e4ec", "fillOpacity": 0.4}},
        {
          "mark": {"type": "line", "strokeWidth": 1.5},
          "encoding": {"color": {"datum": "Erzeugte PV Energie", "type": "nominal"}}
        }
      ]
    }
  ],
  "resolve": {"scale": {"y": "independent"}}
}
